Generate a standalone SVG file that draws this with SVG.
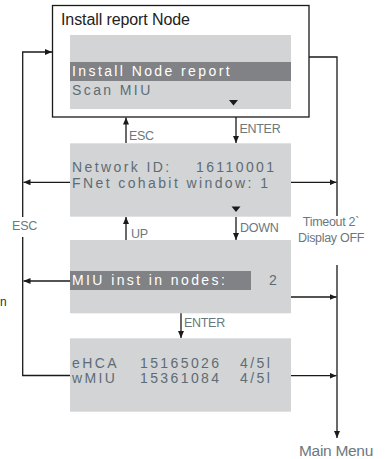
<svg xmlns="http://www.w3.org/2000/svg" width="387" height="459" viewBox="0 0 387 459">
<style>
.scr{fill:#d3d4d6}
.hl{fill:#808285}
.st{font-family:"Liberation Sans",Arial,sans-serif;font-size:14px;letter-spacing:2.4px;fill:#5d6c74}
.sw{font-family:"Liberation Sans",Arial,sans-serif;font-size:14px;letter-spacing:2.4px;fill:#ffffff}
.lbl{font-family:"Liberation Sans",Arial,sans-serif;font-size:12.5px;letter-spacing:-0.3px;fill:#6b7880}
.ln{fill:none;stroke:#1a1a1a;stroke-width:1.3}
.tri{fill:#1a1a1a}
</style>
<defs>
<marker id="ah" markerWidth="7" markerHeight="6" refX="7" refY="3" orient="auto" markerUnits="userSpaceOnUse">
<path d="M0,0 L7,3 L0,6 z" fill="#1a1a1a"/>
</marker>
</defs>
<rect x="0" y="0" width="387" height="459" fill="#ffffff"/>

<g id="connectors">
<path class="ln" d="M70,375.5 H22.7 V52 H52" marker-end="url(#ah)"/>
<path class="ln" d="M70,182.3 H23.5" marker-end="url(#ah)"/>
<path class="ln" d="M70,281 H23.5" marker-end="url(#ah)"/>
<path class="ln" d="M309,57 H337 V438" marker-end="url(#ah)"/>
<path class="ln" d="M291,182.3 H336.5" marker-end="url(#ah)"/>
<path class="ln" d="M291,297 H336.5" marker-end="url(#ah)"/>
<path class="ln" d="M291,375.7 H336.5" marker-end="url(#ah)"/>
<path class="ln" d="M126,143 V117.5" marker-end="url(#ah)"/>
<path class="ln" d="M236,117 V143" marker-end="url(#ah)"/>
<path class="ln" d="M126,240 V217" marker-end="url(#ah)"/>
<path class="ln" d="M236,217 V240" marker-end="url(#ah)"/>
<path class="ln" d="M181,313 V338" marker-end="url(#ah)"/>
<rect x="10" y="217" width="28" height="20" fill="#ffffff"/>
<rect x="300" y="216" width="70" height="49" fill="#ffffff"/>
<text class="lbl" x="24.5" y="230" text-anchor="middle">ESC</text>
<text class="lbl" x="129" y="140">ESC</text>
<text class="lbl" x="239.5" y="133">ENTER</text>
<text class="lbl" x="131" y="238">UP</text>
<text class="lbl" x="240" y="232">DOWN</text>
<text class="lbl" x="184" y="327">ENTER</text>
<text class="lbl" x="331" y="226" text-anchor="middle">Timeout 2`</text>
<text class="lbl" x="331" y="242" text-anchor="middle">Display OFF</text>
<text class="lbl" x="336" y="456" text-anchor="middle" style="font-size:15.5px">Main Menu</text>
<text x="0" y="306" style="font-family:'Liberation Sans',Arial,sans-serif;font-size:12px;fill:#333">n</text>
</g>

<g id="node-install-report">
<rect x="52.5" y="5.5" width="256.5" height="111.5" fill="#ffffff" stroke="#1a1a1a" stroke-width="1.3"/>
<text x="61" y="25" style="font-family:'Liberation Sans',Arial,sans-serif;font-size:16px;letter-spacing:-0.1px;fill:#222">Install report Node</text>
<rect class="scr" x="70" y="35" width="221" height="74"/>
<rect class="hl" x="70" y="62" width="221" height="19"/>
<text class="sw" x="72" y="76">Install Node report</text>
<text class="st" x="72" y="95">Scan MIU</text>
<path class="tri" d="M229,100 H238 L233.5,105.5 z"/>
</g>

<g id="node-network">
<rect class="scr" x="70" y="143.3" width="221" height="73.4"/>
<text class="st" x="72" y="172">Network ID:</text>
<text class="st" x="196" y="172">16110001</text>
<text class="st" x="72" y="188">FNet cohabit window: 1</text>
<path class="tri" d="M231.5,206.5 H240.5 L236,212 z"/>
</g>

<g id="node-miu-inst">
<rect class="scr" x="70" y="240" width="221" height="73.3"/>
<rect class="hl" x="70" y="271" width="181" height="19"/>
<text class="sw" x="72" y="285">MIU inst in nodes:</text>
<text class="st" x="269" y="285">2</text>
</g>

<g id="node-list">
<rect class="scr" x="70" y="338.3" width="221" height="73.4"/>
<text class="st" x="72" y="368">eHCA</text>
<text class="st" x="140" y="368">15165026</text>
<text class="st" x="240" y="368">4/5l</text>
<text class="st" x="72" y="383">wMIU</text>
<text class="st" x="140" y="383">15361084</text>
<text class="st" x="240" y="383">4/5l</text>
</g>
</svg>
